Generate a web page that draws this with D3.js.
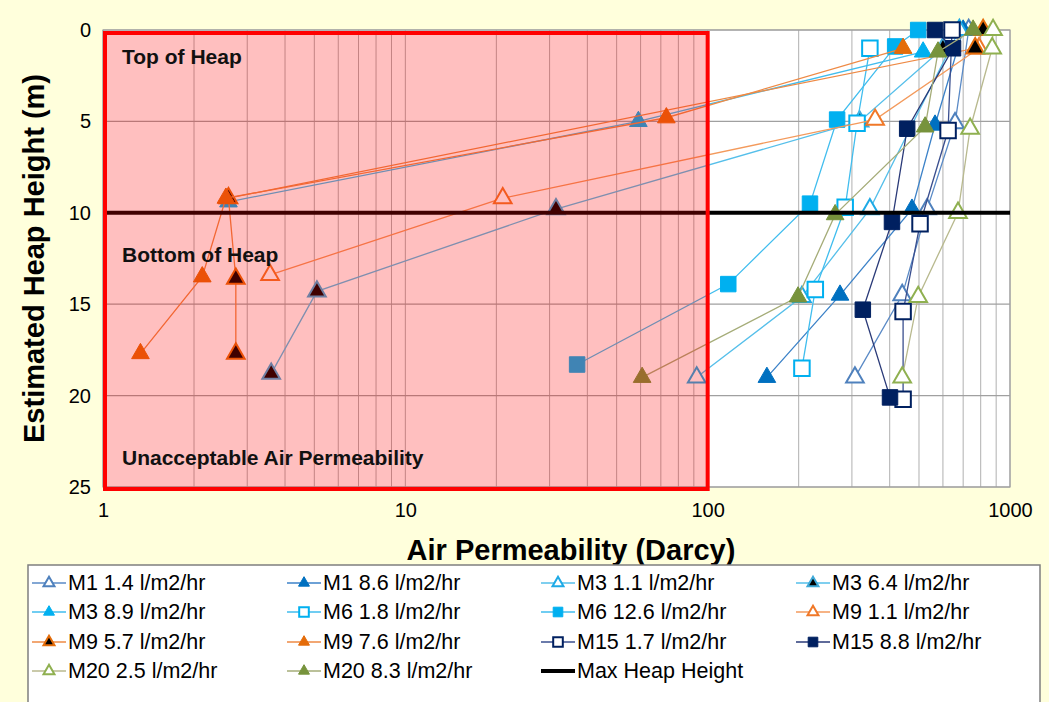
<!DOCTYPE html>
<html>
<head>
<meta charset="utf-8">
<script src="https://cdn.jsdelivr.net/npm/d3@7"></script>
<style>
  body { margin: 0; background: #FFFFDC; }
  svg { display: block; font-family: "Liberation Sans", Arial, sans-serif; }
</style>
</head>
<body>
<div id="chart"></div>
<script>
// Series names as in the legend
const seriesNames = [
    'M1 1.4 l/m2/hr', 'M1 8.6 l/m2/hr', 'M3 1.1 l/m2/hr', 'M3 6.4 l/m2/hr',
    'M3 8.9 l/m2/hr', 'M6 1.8 l/m2/hr', 'M6 12.6 l/m2/hr', 'M9 1.1 l/m2/hr',
    'M9 5.7 l/m2/hr', 'M9 7.6 l/m2/hr', 'M15 1.7 l/m2/hr', 'M15 8.8 l/m2/hr',
    'M20 2.5 l/m2/hr', 'M20 8.3 l/m2/hr'
];

// Estimated heap height (m) for each series point
const seriesDepths = [
    [0, 5.1, 9.8, 14.5, 19.0],
    [0, 5.2, 9.8, 14.5, 19.0],
    [0, 9.8, 14.6, 19.0],
    [1.0, 5.0, 9.8, 14.3, 18.8],
    [1.2, 5.0, 9.4],
    [1.0, 5.1, 9.7, 14.2, 18.5],
    [0, 0.9, 4.9, 9.5, 13.9, 18.3],
    [1.0, 4.9, 9.2, 13.4],
    [0, 1.0, 9.2, 13.6, 17.7],
    [1.0, 4.8, 9.2, 13.5, 17.7],
    [0, 5.5, 10.6, 15.4, 20.2],
    [0, 1.0, 5.4, 10.5, 15.3, 20.1],
    [0, 1.0, 5.4, 10.0, 14.6, 19.0],
    [0, 1.2, 5.3, 10.1, 14.6, 19.0]
];

// Air permeability (Darcy) for each series point
const seriesPerm = [
    [730, 658, 532, 440, 307],
    [700, 565, 474, 274, 157],
    [680, 344, 205, 92],
    [600, 318, 31.5, 5.1, 3.6],
    [516, 59, 2.6],
    [344, 312, 285, 227, 205],
    [497, 417, 268, 218, 117, 37],
    [790, 358, 21, 3.57],
    [815, 767, 2.6, 2.75, 2.75],
    [443, 73, 2.55, 2.13, 1.33],
    [643, 624, 504, 443, 443],
    [565, 648, 457, 407, 326, 401],
    [879, 873, 738, 673, 497, 440],
    [755, 578, 524, 264, 199, 60.7]
];

const maxHeapHeight = 10;
const unacceptableLimit = 100;
const xTicks = [1, 10, 100, 1000];
const yTicks = [0, 5, 10, 15, 20, 25];

// Marker styles per series
const styles = [
    { shape: 'tri', fill: '#fff', stroke: '#4F81BD', line: '#5A8AC6' },
    { shape: 'tri', fill: '#0070C0', stroke: '#0070C0', line: '#3C82C8' },
    { shape: 'tri', fill: '#fff', stroke: '#1EAAE6', line: '#55BFEA' },
    { shape: 'tri', fill: '#000', stroke: '#3FA9D8', line: '#55BFEA' },
    { shape: 'tri', fill: '#00B0F0', stroke: '#00B0F0', line: '#40BDEE' },
    { shape: 'sq', fill: '#fff', stroke: '#00B0F0', line: '#40BDEE' },
    { shape: 'sq', fill: '#00B0F0', stroke: '#00B0F0', line: '#40BDEE' },
    { shape: 'tri', fill: '#fff', stroke: '#F07828', line: '#F39A5C' },
    { shape: 'tri', fill: '#000', stroke: '#E46C0A', line: '#EE8A45' },
    { shape: 'tri', fill: '#E46C0A', stroke: '#E46C0A', line: '#EE8A45' },
    { shape: 'sq', fill: '#fff', stroke: '#002060', line: '#3A4F8F' },
    { shape: 'sq', fill: '#002060', stroke: '#002060', line: '#2A3A78' },
    { shape: 'tri', fill: '#fff', stroke: '#8FB050', line: '#B8B98E' },
    { shape: 'tri', fill: '#77933C', stroke: '#77933C', line: '#A5AC78' }
];

const W = 1049, H = 702;
const plot = { left: 103, right: 1010, top: 30, bottom: 487 };

const svg = d3.select('#chart').append('svg')
    .attr('width', W)
    .attr('height', H);

svg.append('rect')
    .attr('width', W).attr('height', H)
    .attr('fill', '#FFFFDC');

const x = d3.scaleLog().domain([1, 1000]).range([plot.left, plot.right]);
const y = d3.scaleLinear().domain([0, 25]).range([plot.top, plot.bottom]);

// Plot area
svg.append('rect')
    .attr('x', plot.left).attr('y', plot.top)
    .attr('width', plot.right - plot.left).attr('height', plot.bottom - plot.top)
    .attr('fill', '#fff');

// Grid lines
const minorX = [];
[1, 10, 100].forEach(dec => { for (let k = 1; k <= 9; k++) minorX.push(dec * k); });
minorX.push(1000);

svg.append('g').selectAll('line')
    .data(minorX)
    .enter().append('line')
    .attr('x1', d => x(d)).attr('x2', d => x(d))
    .attr('y1', plot.top).attr('y2', plot.bottom)
    .attr('stroke', '#B0B0B0').attr('stroke-width', 1);

svg.append('g').selectAll('line')
    .data(yTicks)
    .enter().append('line')
    .attr('x1', plot.left).attr('x2', plot.right)
    .attr('y1', d => y(d)).attr('y2', d => y(d))
    .attr('stroke', '#A0A0A0').attr('stroke-width', 1.2);

svg.append('rect')
    .attr('x', plot.left).attr('y', plot.top)
    .attr('width', plot.right - plot.left).attr('height', plot.bottom - plot.top)
    .attr('fill', 'none').attr('stroke', '#A0A0A0').attr('stroke-width', 1.2);

// Axes
const yAxis = svg.append('g')
    .attr('transform', `translate(${plot.left},0)`)
    .call(d3.axisLeft(y).tickValues(yTicks).tickSize(0).tickPadding(12));
yAxis.select('.domain').remove();
yAxis.selectAll('text').style('font-size', '20px').attr('fill', '#000');

const xAxis = svg.append('g')
    .attr('transform', `translate(0,${plot.bottom})`)
    .call(d3.axisBottom(x).tickValues(xTicks).tickFormat(d3.format('d')).tickSize(0).tickPadding(16));
xAxis.select('.domain').remove();
xAxis.selectAll('text').style('font-size', '20px').attr('fill', '#000');

svg.append('text')
    .attr('transform', `translate(44,${(plot.top + plot.bottom) / 2}) rotate(-90)`)
    .attr('text-anchor', 'middle')
    .style('font-size', '29px').style('font-weight', 'bold')
    .text('Estimated Heap Height (m)');

svg.append('text')
    .attr('x', 571).attr('y', 560)
    .attr('text-anchor', 'middle')
    .style('font-size', '29px').style('font-weight', 'bold')
    .text('Air Permeability (Darcy)');

// Marker helper
const triPath = d3.symbol().type(d3.symbolTriangle).size(135)();
const sqPath = d3.symbol().type(d3.symbolSquare).size(240)();

function drawMarker(g, st, cx, cy, scale) {
    const s = scale || 1;
    g.append('path')
        .attr('d', st.shape === 'tri' ? triPath : sqPath)
        .attr('transform', `translate(${cx},${cy}) scale(${s})`)
        .attr('fill', st.fill)
        .attr('stroke', st.stroke)
        .attr('stroke-width', (st.fill === '#fff' || st.fill === '#000') ? 2 / s : 1 / s);
}

// Series lines and markers
const line = d3.line().x(d => x(d.perm)).y(d => y(d.depth));
const seriesG = svg.append('g');

seriesNames.forEach((name, i) => {
    const pts = seriesDepths[i].map((dep, j) => ({ depth: dep, perm: seriesPerm[i][j] }));
    const g = seriesG.append('g');
    g.append('path')
        .datum(pts)
        .attr('fill', 'none')
        .attr('stroke', styles[i].line)
        .attr('stroke-width', 1.3)
        .attr('d', line);
    pts.forEach(p => drawMarker(g, styles[i], x(p.perm), y(p.depth)));
});

// Max heap height line
svg.append('line')
    .attr('x1', plot.left).attr('x2', plot.right)
    .attr('y1', y(maxHeapHeight)).attr('y2', y(maxHeapHeight))
    .attr('stroke', '#000').attr('stroke-width', 4);

// Unacceptable permeability zone
svg.append('rect')
    .attr('x', x(1) + 2).attr('y', y(0) + 3)
    .attr('width', x(unacceptableLimit) - x(1) - 2).attr('height', y(25) - y(0) - 1)
    .attr('fill', 'rgba(255,0,0,0.25)')
    .attr('stroke', '#FF0000').attr('stroke-width', 4);

const notes = [
    { text: 'Top of Heap', yv: 1.5 },
    { text: 'Bottom of Heap', yv: 12.3 },
    { text: 'Unacceptable Air Permeability', yv: 23.4 }
];
svg.append('g').selectAll('text')
    .data(notes)
    .enter().append('text')
    .attr('x', 122)
    .attr('y', d => y(d.yv) + 7)
    .style('font-size', '21px').style('font-weight', 'bold')
    .attr('fill', '#111')
    .text(d => d.text);

// Legend
const legend = svg.append('g');
legend.append('rect')
    .attr('x', 28).attr('y', 565)
    .attr('width', 1012).attr('height', 140)
    .attr('fill', '#fff')
    .attr('stroke', '#7F7F7F').attr('stroke-width', 1.5);

const colX = [32, 287, 541, 796];
const rowY = [583, 612, 642, 671];
const legendItems = seriesNames.map((n, i) => ({ name: n, st: styles[i] }));
legendItems.push({ name: 'Max Heap Height', st: null });

legendItems.forEach((item, i) => {
    const lx = colX[i % 4], ly = rowY[Math.floor(i / 4)];
    const g = legend.append('g');
    g.append('line')
        .attr('x1', lx).attr('x2', lx + 34)
        .attr('y1', ly).attr('y2', ly)
        .attr('stroke', item.st ? item.st.line : '#000')
        .attr('stroke-width', item.st ? 1.6 : 4);
    if (item.st) drawMarker(g, item.st, lx + 17, ly, 0.62);
    g.append('text')
        .attr('x', lx + 36).attr('y', ly + 7)
        .style('font-size', '21.5px')
        .text(item.name);
});
</script>
</body>
</html>
